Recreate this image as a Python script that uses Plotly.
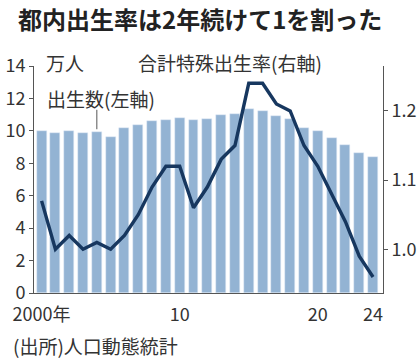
import plotly.graph_objects as go

years = list(range(2000, 2025))
births = [10.02, 9.86, 10.01, 9.85, 9.90, 9.65, 10.17, 10.34, 10.60, 10.66, 10.81,
          10.66, 10.74, 11.00, 11.06, 11.32, 11.20, 10.90, 10.72, 10.18, 9.97,
          9.54, 9.11, 8.63, 8.40]
tfr = [1.07, 1.00, 1.02, 1.00, 1.01, 1.00, 1.02, 1.05, 1.09, 1.12, 1.12,
       1.06, 1.09, 1.13, 1.15, 1.24, 1.24, 1.21, 1.20, 1.15, 1.12,
       1.08, 1.04, 0.99, 0.96]
left_ticks = [0, 2, 4, 6, 8, 10, 12, 14]
right_ticks = [1.0, 1.1, 1.2]
x_tickvals = [2000, 2010, 2020, 2024]
x_ticktext = ["2000年", "10", "20", "24"]

FONT = "Noto Sans CJK JP"
TXT = "#333333"

fig = go.Figure()
fig.add_trace(go.Bar(x=years, y=births, marker_color="#93b3d3", width=0.72,
                     showlegend=False, hoverinfo="skip"))
fig.add_trace(go.Scatter(x=years, y=tfr, yaxis="y2", mode="lines",
                         line=dict(color="#17375f", width=3.4),
                         showlegend=False, hoverinfo="skip"))

W, H = 420, 362
L, R, T, B = 34, 37, 66, 69
fig.update_layout(
    width=W, height=H,
    margin=dict(l=L, r=R, t=T, b=B, autoexpand=False),
    paper_bgcolor="white", plot_bgcolor="white",
    font=dict(family=FONT, color=TXT, size=18),
    bargap=0,
    xaxis=dict(range=[1999.45, 2024.72], tickvals=x_tickvals, ticktext=x_ticktext,
               showline=True, linecolor="#555", linewidth=1, ticks="outside",
               ticklen=5, tickcolor="rgba(0,0,0,0)", automargin=False,
               showgrid=False, zeroline=False, tickfont=dict(size=18, color=TXT)),
    yaxis=dict(range=[0, 14], tickvals=left_ticks, showline=True, linecolor="#555",
               linewidth=1, ticks="outside", ticklen=4, tickcolor="#555",
               automargin=False,
               showgrid=False, zeroline=False, tickfont=dict(size=18, color=TXT)),
    yaxis2=dict(range=[0.9368, 1.265], tickvals=right_ticks, tickformat=".1f",
                overlaying="y", side="right", showline=True, linecolor="#555",
                linewidth=1, ticks="outside", ticklen=4, tickcolor="#555",
                automargin=False,
                showgrid=False, zeroline=False, tickfont=dict(size=18, color=TXT)),
    title=dict(text="<b>都内出生率は2年続けて1を割った</b>", x=18 / W, xanchor="left",
               y=1 - 21 / H, yanchor="middle",
               font=dict(family=FONT, size=24, color="#222")),
)

fig.add_shape(type="line", xref="x", yref="y", x0=2004, x1=2004, y0=10.1, y1=11.3,
              line=dict(color="#555", width=1))

PW, PH = W - L - R, H - T - B


def px(xp):
    return (xp - L) / PW


def py(yp):
    return (H - B - yp) / PH


fig.add_annotation(text="万人", xref="paper", yref="paper", x=px(44), y=py(62),
                   xanchor="left", yanchor="middle", showarrow=False,
                   font=dict(size=19, color=TXT))
fig.add_annotation(text="出生数(左軸)", xref="paper", yref="paper", x=px(45), y=py(98),
                   xanchor="left", yanchor="middle", showarrow=False,
                   font=dict(size=19, color=TXT))
fig.add_annotation(text="合計特殊出生率(右軸)", xref="paper", yref="paper", x=px(136), y=py(63),
                   xanchor="left", yanchor="middle", showarrow=False,
                   font=dict(size=19, color=TXT))
fig.add_annotation(text="(出所)人口動態統計", xref="paper", yref="paper", x=px(11), y=py(345),
                   xanchor="left", yanchor="middle", showarrow=False,
                   font=dict(size=19, color=TXT))

fig.write_html(
    "out.html",
    config={"displayModeBar": False},
    post_script="document.body.style.margin='0';document.body.style.overflow='hidden';",
)
